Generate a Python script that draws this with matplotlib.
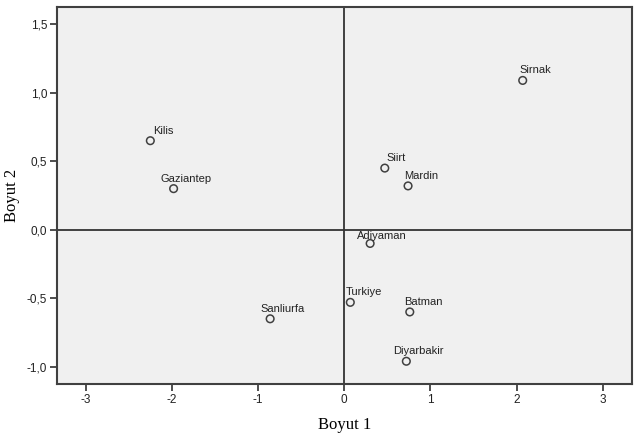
import numpy as np
import matplotlib.pyplot as plt

# Boyut 1 / Boyut 2 coordinates
cities = ['Kilis', 'Gaziantep', 'Sirnak', 'Siirt', 'Mardin',
          'Sanliurfa', 'Adiyaman', 'Turkiye', 'Batman', 'Diyarbakir']
boyut1 = [-2.25, -1.98, 2.07, 0.47, 0.74, -0.86, 0.30, 0.07, 0.76, 0.72]
boyut2 = [0.65, 0.30, 1.09, 0.45, 0.32, -0.65, -0.10, -0.53, -0.60, -0.96]

x_ticks = [-3, -2, -1, 0, 1, 2, 3]
y_ticks = [-1.0, -0.5, 0.0, 0.5, 1.0, 1.5]

# label offsets (pixels) relative to each marker
label_dx = [3, -13, -3, 2, -4, -10, -13, -5, -6, -13]
label_dy = [5, 5, 5, 5, 5, 5, 2, 5, 5, 5]

plt.rcParams['font.family'] = ['Liberation Sans', 'DejaVu Sans']

fig = plt.figure(figsize=(6.38, 4.34), dpi=100)
ax = fig.add_axes([0.0893, 0.1152, 0.9013, 0.8687])
ax.set_facecolor('#f0f0f0')

ax.axhline(0, color='#333333', lw=1.3, zorder=1)
ax.axvline(0, color='#333333', lw=1.3, zorder=1)

ax.scatter(boyut1, boyut2, s=30, facecolors='none', edgecolors='#404040',
           linewidths=1.1, zorder=3)

for name, x, y, dx, dy in zip(cities, boyut1, boyut2, label_dx, label_dy):
    ax.annotate(name, (x, y), xytext=(dx, dy), textcoords='offset pixels',
                ha='left', va='bottom', fontsize=8, color='#222222')

ax.set_xlim(-3.333, 3.338)
ax.set_ylim(-1.126, 1.626)
ax.set_xticks(x_ticks)
ax.set_xticklabels([str(t) for t in x_ticks])
ax.set_yticks(y_ticks)
ax.set_yticklabels([f'{t:.1f}'.replace('.', ',') for t in y_ticks])
ax.tick_params(direction='out', length=5, width=1.3, color='#404040',
               labelsize=8.5, labelcolor='#222222', pad=2)

for s in ax.spines.values():
    s.set_color('#404040')
    s.set_linewidth(1.5)

ax.set_xlabel('Boyut 1', family='Liberation Serif', fontsize=12, labelpad=8)
ax.set_ylabel('Boyut 2', family='Liberation Serif', fontsize=12)
ax.yaxis.set_label_coords(-0.064, 0.5)

fig.savefig('out.png', dpi=100)
